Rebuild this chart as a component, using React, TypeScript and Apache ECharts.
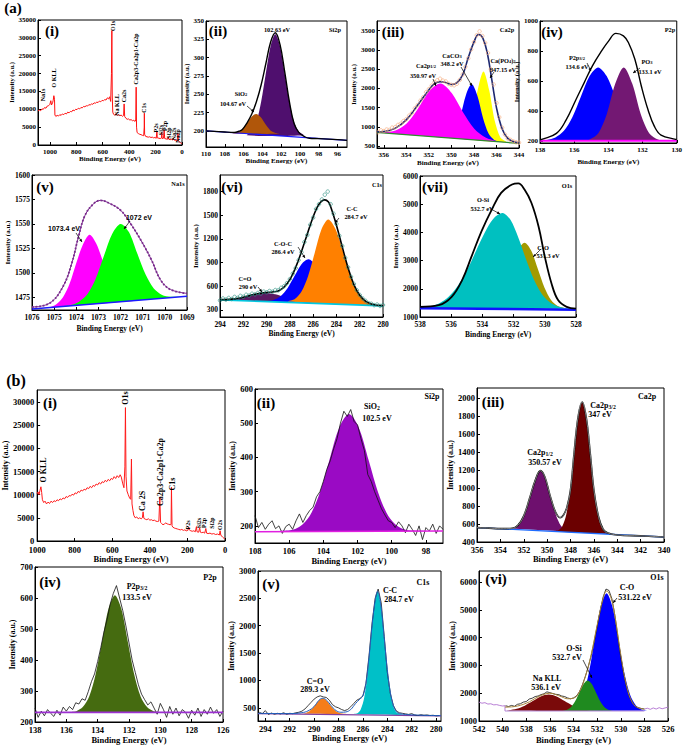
import React, { useEffect, useRef } from "react";
import * as echarts from "echarts";

type Pt = [number, number];

const SERIF = "'Liberation Serif','Times New Roman',serif";
const SANS = "'Liberation Sans',Arial,sans-serif";

// ---------------- tick values ----------------
const aSurveyXTicks = [0, 200, 400, 600, 800, 1000];
const aSurveyYTicks = [0, 5000, 10000, 15000, 20000, 25000, 30000, 35000];
const aSi2pXTicks = [96, 98, 100, 102, 104, 106, 108, 110];
const aSi2pYTicks = [200, 225, 250, 275, 300, 325, 350];
const aCa2pXTicks = [344, 346, 348, 350, 352, 354, 356];
const aCa2pYTicks = [500, 1000, 1500, 2000, 2500, 3000, 3500];
const aP2pXTicks = [130, 132, 134, 136, 138];
const aP2pYTicks = [200, 400, 600, 800, 1000];
const aNaXTicks = [1069, 1070, 1071, 1072, 1073, 1074, 1075, 1076];
const aNaYTicks = [1475, 1500, 1525, 1550, 1575, 1600];
const aC1sXTicks = [280, 282, 284, 286, 288, 290, 292, 294];
const aC1sYTicks = [300, 600, 900, 1200, 1500, 1800];
const aO1sXTicks = [528, 530, 532, 534, 536, 538];
const aO1sYTicks = [1000, 2000, 3000, 4000, 5000, 6000];
const bSurveyXTicks = [0, 200, 400, 600, 800, 1000];
const bSurveyYTicks = [0, 5000, 10000, 15000, 20000, 25000, 30000];
const bSi2pXTicks = [98, 100, 102, 104, 106, 108];
const bSi2pYTicks = [200, 300, 400, 500, 600];
const bCa2pXTicks = [340, 342, 344, 346, 348, 350, 352, 354, 356];
const bCa2pYTicks = [400, 600, 800, 1000, 1200, 1400, 1600, 1800, 2000];
const bP2pXTicks = [126, 128, 130, 132, 134, 136, 138];
const bP2pYTicks = [200, 300, 400, 500, 600, 700];
const bC1sXTicks = [280, 282, 284, 286, 288, 290, 292, 294];
const bC1sYTicks = [500, 1000, 1500, 2000, 2500, 3000];
const bO1sXTicks = [526, 528, 530, 532, 534, 536, 538, 540, 542];
const bO1sYTicks = [1000, 2000, 3000, 4000, 5000, 6000];

// ---------------- (a)(i) survey ----------------
const aSurvey: Pt[] = [[1090,9500],[1080,9800],[1070,9600],[1060,10100],[1050,10000],[1040,10500],[1030,10300],[1020,10900],[1010,11000],[1000,11400],[993,12400],[988,11200],[980,11800],[975,12500],[970,13800],[965,12800],[962,8400],[955,8000],[945,8300],[935,8100],[925,8500],[915,8300],[905,8700],[895,8500],[885,8900],[875,8700],[865,9200],[855,9000],[845,9400],[835,9300],[825,9800],[815,9600],[805,10000],[795,9900],[785,10300],[775,10100],[765,10500],[755,10400],[745,10800],[735,10700],[725,11000],[715,10900],[705,11300],[695,11200],[685,11500],[675,11400],[665,11800],[655,11700],[645,12000],[635,11900],[625,12300],[615,12100],[605,12500],[595,12400],[585,12700],[575,12600],[565,13200],[555,12900],[548,13500],[540,12200],[534,20000],[531,32000],[528,14000],[524,9200],[518,8600],[510,8400],[500,8700],[490,8300],[480,8500],[470,8200],[460,8400],[450,8000],[442,8300],[438,11500],[434,8000],[425,7500],[415,7200],[405,7300],[395,7000],[385,7100],[375,6800],[365,6900],[355,6600],[350,7000],[347,16200],[344,5000],[340,3500],[330,3200],[320,3000],[310,2900],[300,2700],[290,2600],[286,5000],[285,8900],[283,3000],[275,2400],[265,2300],[255,2200],[245,2300],[235,2100],[225,2200],[215,2000],[205,2100],[195,1900],[190,3900],[187,2000],[175,1900],[165,1800],[155,2000],[153,3500],[150,1800],[140,1900],[135,4200],[131,1800],[120,1700],[110,1600],[104,2300],[100,1600],[90,1500],[80,1600],[70,1400],[65,1900],[60,1400],[50,1300],[40,1200],[33,1500],[31,3300],[28,1100],[20,900],[10,700],[3,300]];

// ---------------- (a)(ii) Si2p ----------------
const aSi2pBase: Pt[] = [[110,200],[95,187]];
const aSi2pSiO2: Pt[] = [[107.17,196.5],[106.67,198],[106.17,202],[105.67,210],[105.17,219],[104.67,223],[104.17,218.5],[103.67,209],[103.17,201],[102.67,197.5],[102.17,196]];
const aSi2pMain: Pt[] = [[105.63,194],[105.13,199],[104.63,212],[104.13,240],[103.63,279],[103.13,316],[102.63,332],[102.13,316],[101.63,279],[101.13,240],[100.63,212],[100.13,199],[99.63,194]];
const aSi2pEnv: Pt[] = [[110,200],[108,198.5],[107,198],[106.5,199.5],[106.13,202],[105.63,211],[105.13,223],[104.63,240],[104.13,263],[103.63,292],[103.13,321],[102.63,334],[102.13,318],[101.63,281],[101.13,240],[100.63,210],[100.13,198],[99.5,192],[99,190],[98,189.5],[96,188],[95,187]];

// ---------------- (a)(iii) Ca2p ----------------
const aCa2pBase: Pt[] = [[357,863],[344,570]];
const aCa2pP12: Pt[] = [[356.5,851],[355.97,857],[354.97,905],[353.97,1088],[352.97,1472],[351.97,1925],[350.97,2127],[349.97,1880],[348.97,1382],[347.97,953],[346.97,725],[345.97,632],[345.0,593]];
const aCa2pCO3: Pt[] = [[350.7,727],[350.2,750],[349.7,894],[349.2,1281],[348.7,1836],[348.2,2114],[347.7,1813],[347.2,1236],[346.7,826],[346.2,660],[345.7,614]];
const aCa2pPO4: Pt[] = [[349.15,699],[348.65,792],[348.15,1196],[347.65,1979],[347.15,2441],[346.65,1957],[346.15,1151],[345.65,724],[345.15,609]];
const aCa2pEnv: Pt[] = [[357,870],[356,880],[355,960],[354,1180],[353,1560],[352,1960],[351.5,2120],[351,2170],[350.5,2150],[350,2100],[349.5,2150],[349,2350],[348.5,2800],[348,3200],[347.6,3400],[347.2,3300],[346.8,2900],[346.4,2200],[346,1500],[345.5,950],[345,700],[344.5,620],[344,580]];
const aCa2pRaw: Pt[] = [[357,880],[356.75,900],[356.5,860],[356.25,910],[356,890],[355.75,930],[355.5,920],[355.25,980],[355,990],[354.75,1050],[354.5,1080],[354.25,1150],[354,1200],[353.75,1290],[353.5,1360],[353.25,1480],[353,1560],[352.75,1680],[352.5,1770],[352.25,1900],[352,1980],[351.75,2070],[351.5,2160],[351.25,2210],[351,2250],[350.75,2200],[350.5,2180],[350.25,2120],[350,2090],[349.75,2080],[349.5,2120],[349.25,2220],[349,2360],[348.75,2560],[348.5,2780],[348.25,3010],[348,3200],[347.75,3380],[347.5,3480],[347.25,3360],[347,3180],[346.75,2920],[346.5,2500],[346.25,2100],[346,1620],[345.75,1250],[345.5,980],[345.25,800],[345,700],[344.75,660],[344.5,620],[344.25,600],[344,590]];

// ---------------- (a)(iv) P2p ----------------
const aP2pBase: Pt[] = [[138,200],[130,200]];
const aP2p32: Pt[] = [[138,200],[137.6,205],[137.1,222],[136.6,266],[136.1,359],[135.6,497],[135.1,632],[134.6,690],[134.1,632],[133.6,497],[133.1,359],[132.6,266],[132.1,222],[131.6,205],[131.1,201]];
const aP2pPO3: Pt[] = [[135.3,201],[135.1,208],[134.6,249],[134.1,376],[133.6,580],[133.1,690],[132.6,580],[132.1,376],[131.6,249],[131.1,208],[130.8,201]];
const aP2pEnv: Pt[] = [[138,205],[137.9,209],[137.04,249],[136.47,339],[135.9,474],[135.42,587],[134.94,699],[134.46,789],[133.98,867],[133.56,917],[133.12,901],[132.83,856],[132.45,744],[132.07,564],[131.68,407],[131.3,294],[130.92,238],[130.06,209],[130,208]];

// ---------------- (a)(v) Na1s ----------------
const aNaBase: Pt[] = [[1076,1463],[1069,1476]];
const aNa1073: Pt[] = [[1075.5,1464],[1075.2,1465],[1074.9,1468],[1074.6,1475],[1074.3,1489],[1074.0,1510],[1073.7,1529],[1073.4,1539],[1073.1,1530],[1072.8,1512],[1072.5,1493],[1072.2,1480],[1071.9,1474],[1071.6,1472],[1071.3,1471.5]];
const aNa1072: Pt[] = [[1074.6,1466],[1074.25,1467],[1073.875,1470.5],[1073.5,1478],[1073.125,1494],[1072.75,1517.5],[1072.375,1540],[1072,1550],[1071.625,1541.7],[1071.25,1520],[1070.875,1498.5],[1070.5,1484],[1070.125,1477.4],[1069.75,1475.5],[1069.3,1475.6]];
const aNaEnv: Pt[] = [[1076,1465],[1075.2,1469],[1074.6,1486],[1074.2,1510],[1073.9,1537],[1073.6,1559],[1073.2,1571],[1072.9,1574],[1072.5,1571],[1072,1564],[1071.6,1552],[1071.1,1534],[1070.6,1513],[1070.2,1493],[1069.75,1483],[1069,1479]];

// ---------------- (a)(vi) C1s ----------------
const aC1sBase: Pt[] = [[294,427],[280,351]];
const aC1sCO: Pt[] = [[294,430],[293.75,431],[293,437],[292.25,453],[291.5,480],[290.75,506],[290,515],[289.25,498],[288.5,464],[287.75,429],[287,404],[286.25,390],[285.5,382],[284.8,377]];
const aC1sCOC: Pt[] = [[290,411],[289.4,426],[288.8,474],[288.2,576],[287.6,729],[287.0,880],[286.4,942],[285.8,874],[285.2,716],[284.6,556],[284.0,448],[283.4,393],[282.8,372],[282.2,363]];
const aC1sCC: Pt[] = [[288.15,407],[287.575,439],[287,533],[286.425,733],[285.85,1032],[285.275,1324],[284.7,1447],[284.05,1317],[283.4,1019],[282.75,713],[282.1,507],[281.45,407],[280.8,368],[280.2,352]];
const aC1sEnv: Pt[] = [[294,430],[293,437],[292,461],[291,498],[290,521],[289.5,527],[289,541],[288.5,588],[288,683],[287.5,839],[287,1040],[286.5,1263],[286,1478],[285.5,1639],[285,1695],[284.7,1670],[284.5,1610],[284,1374],[283.5,1099],[283,832],[282.5,621],[282,485],[281.5,411],[281,375],[280.5,360],[280,351]];
const aC1sRaw: Pt[] = [[294,420],[293.75,445],[293.5,430],[293.25,452],[293,438],[292.75,465],[292.5,452],[292.25,478],[292,466],[291.75,492],[291.5,480],[291.25,505],[291,496],[290.75,515],[290.5,505],[290.25,532],[290,522],[289.75,540],[289.5,530],[289.25,552],[289,548],[288.75,580],[288.5,600],[288.25,640],[288,690],[287.75,760],[287.5,830],[287.25,930],[287,1030],[286.75,1160],[286.5,1250],[286.25,1380],[286,1470],[285.75,1580],[285.5,1640],[285.25,1700],[285,1760],[284.75,1800],[284.5,1640],[284.25,1520],[284,1390],[283.75,1240],[283.5,1110],[283.25,960],[283,840],[282.75,720],[282.5,630],[282.25,550],[282,490],[281.75,445],[281.5,415],[281.25,385],[281,378],[280.75,360],[280.5,368],[280.25,350],[280,362]];

// ---------------- (a)(vii) O1s ----------------
const aO1sBase: Pt[] = [[538,1310],[528,1260]];
const aO1sSi: Pt[] = [[538,1312],[537.7,1334],[537.2,1392],[536.7,1504],[536.2,1698],[535.7,2007],[535.2,2443],[534.7,2990],[534.2,3595],[533.7,4149],[533.2,4547],[532.7,4690],[532.2,4448],[531.7,3819],[531.2,3037],[530.7,2332],[530.2,1825],[529.7,1528],[529.2,1381],[528.7,1320],[528.2,1295]];
const aO1sCO: Pt[] = [[533.85,1316],[533.425,1393],[533.0,1606],[532.575,2050],[532.15,2709],[531.725,3355],[531.3,3630],[530.875,3355],[530.45,2709],[530.025,2050],[529.6,1606],[529.175,1393],[528.75,1316]];
const aO1sEnv: Pt[] = [[538,1360],[536.8,1420],[535.97,1714],[535.3,2310],[534.7,3140],[534.06,4040],[533.4,4810],[532.8,5400],[532.1,5700],[531.7,5740],[531.3,5520],[530.86,5050],[530.4,4210],[530,3140],[529.57,2190],[529.15,1600],[528.6,1360],[528,1300]];

// ---------------- (b)(i) survey ----------------
const bSurvey: Pt[] = [[1000,10200],[995,10600],[990,10000],[985,10900],[980,11700],[976,10500],[972,8900],[965,8300],[958,8600],[950,8000],[942,8400],[934,8100],[926,8600],[918,8300],[910,8700],[902,8500],[894,8900],[886,8700],[878,9100],[870,8900],[862,9300],[854,9100],[846,9600],[838,9400],[830,9800],[822,9700],[814,10100],[806,9900],[798,10400],[790,10200],[782,10700],[774,10500],[766,11000],[758,10800],[750,11200],[742,11000],[734,11500],[726,11300],[718,11800],[710,11500],[702,12000],[694,11800],[686,12300],[678,12100],[670,12600],[662,12300],[654,12800],[646,12600],[638,13100],[630,12800],[622,13300],[614,13000],[606,13500],[598,13300],[590,13900],[582,13500],[574,14100],[566,13700],[558,14300],[552,13800],[545,12500],[538,11500],[533,16000],[530,28800],[527,14000],[522,10800],[515,10000],[508,9300],[502,9000],[498,17700],[495,8000],[490,6600],[485,5500],[478,5000],[470,5200],[462,4800],[454,5000],[446,4800],[440,5000],[436,6300],[432,4900],[424,4700],[416,4600],[408,4800],[400,4500],[392,4600],[384,4400],[376,4500],[368,4300],[360,4200],[352,4300],[347,9500],[343,4000],[338,3800],[330,3500],[322,3700],[315,3900],[308,3700],[300,3600],[292,3500],[287,3600],[285,11600],[282,3300],[278,3000],[270,2800],[262,2700],[254,2600],[246,2500],[238,2400],[230,2500],[222,2300],[214,2400],[206,2200],[198,2300],[193,3000],[190,2400],[182,2200],[174,2100],[166,2200],[158,2000],[152,3100],[149,2000],[140,1900],[135,2900],[131,1900],[124,1800],[116,1900],[108,1700],[102,2700],[98,1700],[90,1600],[80,1700],[70,1500],[60,1600],[50,1400],[40,1500],[30,1300],[26,2200],[22,1200],[15,1000],[8,700],[2,400]];

// ---------------- (b)(ii) Si2p ----------------
const bSi2pBase: Pt[] = [[108,183],[97,185]];
const bSi2pSiO2: Pt[] = [[108,183],[105.95,187],[105.375,198],[104.8,229],[104.225,295],[103.65,392],[103.075,487],[102.5,527],[101.925,487],[101.35,392],[100.775,295],[100.2,229],[99.625,198],[99.05,187],[97,185]];
const bSi2pRaw: Pt[] = [[108,230],[107.8,195],[107.6,210],[107.4,190],[107.2,205],[107.0,215],[106.8,192],[106.6,200],[106.4,178],[106.2,198],[106.0,205],[105.8,190],[105.6,215],[105.4,235],[105.2,210],[105.0,230],[104.8,245],[104.6,255],[104.4,285],[104.2,300],[104.0,330],[103.8,365],[103.6,390],[103.4,425],[103.2,455],[103.0,500],[102.8,535],[102.6,520],[102.4,540],[102.2,505],[102.0,495],[101.8,455],[101.6,420],[101.4,350],[101.2,330],[101.0,300],[100.8,275],[100.6,250],[100.4,232],[100.2,215],[100.0,210],[99.8,195],[99.6,212],[99.4,200],[99.2,180],[99.0,205],[98.8,190],[98.6,172],[98.4,200],[98.2,160],[98.0,195],[97.8,185],[97.6,205],[97.4,178],[97.2,200],[97.0,190]];

// ---------------- (b)(iii) Ca2p ----------------
const bCa2pBase: Pt[] = [[356,560],[340,455]];
const bCa2pP12: Pt[] = [[353.5,552],[353.03,547],[352.62,567],[352.21,625],[351.8,748],[351.39,933],[350.98,1114],[350.57,1189],[350.16,1109],[349.75,922],[349.34,732],[348.93,604],[348.52,540],[348.11,515],[347.5,511]];
const bCa2pP32: Pt[] = [[349.5,518],[349.04,530],[348.7,576],[348.36,706],[348.02,978],[347.68,1384],[347.34,1783],[347,1951],[346.66,1779],[346.32,1376],[345.98,965],[345.64,688],[345.3,554],[344.96,504],[344.5,485],[343.5,480]];
const bCa2pEnv: Pt[] = [[356,560],[355,554],[354,548],[353,552],[352.5,585],[352,690],[351.5,885],[351,1090],[350.57,1192],[350.2,1125],[349.8,940],[349.4,770],[349.1,690],[348.9,670],[348.6,700],[348.3,790],[348,980],[347.7,1380],[347.35,1790],[347,1955],[346.65,1780],[346.3,1370],[346,980],[345.6,680],[345.2,540],[344.8,500],[344,478],[342,468],[340,456]];

// ---------------- (b)(iv) P2p ----------------
const bP2pBase: Pt[] = [[138,231],[126,231]];
const bP2p32: Pt[] = [[135.8,232],[135.36,235],[134.95,248],[134.54,282],[134.13,354],[133.72,460],[133.31,565],[132.9,609],[132.49,565],[132.08,460],[131.67,354],[131.26,282],[130.85,248],[130.44,235],[130,232]];
const bP2pRaw: Pt[] = [[138,245],[137.8,215],[137.6,235],[137.4,220],[137.2,240],[137.0,228],[136.8,218],[136.6,238],[136.4,222],[136.2,248],[136.0,235],[135.8,250],[135.6,240],[135.4,262],[135.2,258],[135.0,275],[134.8,270],[134.6,298],[134.4,330],[134.2,355],[134.0,395],[133.8,440],[133.6,490],[133.4,530],[133.2,580],[133.0,615],[132.8,640],[132.6,600],[132.4,560],[132.2,510],[132.0,455],[131.8,400],[131.6,360],[131.4,320],[131.2,290],[131.0,272],[130.8,255],[130.6,265],[130.4,245],[130.2,225],[130.0,260],[129.8,240],[129.6,215],[129.4,250],[129.2,225],[129.0,245],[128.8,220],[128.6,240],[128.4,232],[128.2,212],[128.0,238],[127.8,222],[127.6,245],[127.4,218],[127.2,240],[127.0,225],[126.8,248],[126.6,228],[126.4,240],[126.2,218],[126.0,235]];

// ---------------- (b)(v) C1s ----------------
const bC1sBase: Pt[] = [[294.6,395],[279.6,355]];
const bC1sCO: Pt[] = [[291.3,391],[291.04,393],[290.75,403],[290.46,428],[290.17,483],[289.88,563],[289.59,641],[289.3,675],[289.01,641],[288.72,563],[288.43,483],[288.14,428],[287.85,403],[287.56,393],[287.2,388]];
const bC1sCC: Pt[] = [[286.9,386],[286.45,400],[286.175,474],[285.9,678],[285.625,1104],[285.35,1737],[285.075,2356],[284.8,2620],[284.525,2356],[284.25,1737],[283.975,1104],[283.7,678],[283.425,474],[283.15,400],[282.7,372]];
const bC1sEnv: Pt[] = [[294.6,400],[292,395],[291,412],[290.5,445],[290,525],[289.6,640],[289.3,675],[289,645],[288.6,540],[288.2,450],[287.8,420],[287.4,425],[287,470],[286.6,580],[286.3,650],[286,720],[285.75,950],[285.5,1420],[285.25,2000],[285,2450],[284.8,2630],[284.55,2400],[284.3,1880],[284,1200],[283.75,780],[283.5,540],[283.25,430],[283,395],[282,372],[279.6,358]];
const bC1sRaw: Pt[] = [[294.5,420],[294.25,395],[294,450],[293.75,380],[293.5,405],[293.25,385],[293,400],[292.75,390],[292.5,410],[292.25,385],[292,400],[291.75,395],[291.5,410],[291.25,420],[291,440],[290.75,480],[290.5,540],[290.25,600],[290,660],[289.75,700],[289.5,720],[289.25,700],[289,690],[288.75,640],[288.5,560],[288.25,520],[288,500],[287.75,470],[287.5,450],[287.25,470],[287,520],[286.75,580],[286.5,640],[286.25,670],[286,720],[285.75,950],[285.5,1450],[285.25,2050],[285,2500],[284.75,2670],[284.5,2420],[284.25,1800],[284,1150],[283.75,760],[283.5,540],[283.25,440],[283,410],[282.75,400],[282.5,390],[282.25,380],[282,395],[281.75,370],[281.5,360],[281.25,375],[281,365],[280.75,370],[280.5,360],[280.25,365],[280,355],[279.75,360]];

// ---------------- (b)(vi) O1s ----------------
const bO1sNaKLL: Pt[] = [[539.8,1374],[539.475,1386],[538.8,1440],[538.125,1552],[537.45,1718],[536.775,1881],[536.1,1950],[535.425,1881],[534.75,1718],[534.075,1552],[533.4,1440],[532.725,1386],[532.05,1366],[531.5,1361]];
const bO1sSi: Pt[] = [[534.9,1372],[534.55,1408],[534.2,1508],[533.85,1717],[533.5,2027],[533.15,2331],[532.8,2460],[532.45,2331],[532.1,2027],[531.75,1717],[531.4,1508],[531.05,1408],[530.7,1372]];
const bO1sCO: Pt[] = [[534.2,1407],[533.7,1547],[533.2,1932],[532.7,2737],[532.2,3932],[531.7,5102],[531.2,5600],[530.7,5102],[530.2,3932],[529.7,2737],[529.2,1932],[528.7,1547],[528.2,1407],[527.8,1370]];
const bO1sEnv: Pt[] = [[539.8,1500],[539,1520],[538,1640],[537,1870],[536.5,1960],[536,2000],[535.5,1950],[535,1870],[534.5,1800],[534,1820],[533.5,2050],[533,2600],[532.5,3400],[532,4450],[531.5,5400],[531.2,5680],[530.8,5400],[530.5,4800],[530,3400],[529.5,2250],[529,1650],[528.5,1470],[528,1430]];
const bO1sRaw: Pt[] = [[539.75,1550],[539.5,1520],[539.25,1560],[539,1530],[538.75,1600],[538.5,1620],[538.25,1680],[538,1700],[537.75,1790],[537.5,1820],[537.25,1880],[537,1900],[536.75,1950],[536.5,1980],[536.25,2050],[536,2020],[535.75,1990],[535.5,1960],[535.25,1950],[535,1900],[534.75,1880],[534.5,1830],[534.25,1800],[534,1830],[533.75,1900],[533.5,2050],[533.25,2300],[533,2600],[532.75,2950],[532.5,3350],[532.25,3850],[532,4400],[531.75,4950],[531.5,5450],[531.25,5750],[531,5700],[530.75,5400],[530.5,4800],[530.25,4050],[530,3300],[529.75,2700],[529.5,2200],[529.25,1850],[529,1650],[528.75,1520],[528.5,1480],[528.25,1450],[528,1430]];
const bO1sTailL: Pt[] = [[542,1680],[541.75,1640],[541.5,1660],[541.25,1610],[541,1620],[540.75,1580],[540.5,1590],[540.25,1560],[540,1540],[539.8,1550],[539.8,1360]];
const bO1sTailR: Pt[] = [[528,1430],[527.75,1460],[527.5,1420],[527.25,1470],[527,1430],[526.75,1480],[526.5,1440],[526.25,1470],[526,1500]];
const bO1sBase: Pt[] = [[539.8,1360],[528,1360]];

// ---------------- panels ----------------
interface Panel { box: number[]; x: number[]; y: number[]; xt: number[]; yt: number[]; fs: number; nfs: number; xg: number; yg: number; xm: number; ym: number; }
const panels: Panel[] = [
  { box: [38, 20, 144, 125], x: [0, 1090], y: [0, 35000], xt: aSurveyXTicks, yt: aSurveyYTicks, fs: 7, nfs: 7, xg: 8.5, yg: 19, xm: 3, ym: 2 },
  { box: [206, 21, 141, 126], x: [95, 110], y: [178, 350], xt: aSi2pXTicks, yt: aSi2pYTicks, fs: 7, nfs: 7, xg: 9.5, yg: 13.5, xm: 3, ym: 2 },
  { box: [377, 21, 142, 127], x: [344, 356.6], y: [450, 3750], xt: aCa2pXTicks, yt: aCa2pYTicks, fs: 7, nfs: 7, xg: 11.5, yg: 16.5, xm: 3, ym: 2 },
  { box: [540, 21, 139, 122], x: [130, 138], y: [185, 1000], xt: aP2pXTicks, yt: aP2pYTicks, fs: 7, nfs: 7, xg: 15.5, yg: 12.5, xm: 3, ym: 2 },
  { box: [32, 175, 155, 135], x: [1069, 1076], y: [1462, 1600], xt: aNaXTicks, yt: aNaYTicks, fs: 7.5, nfs: 7.5, xg: 14, yg: 18.5, xm: 3, ym: 2 },
  { box: [220, 175, 163, 142], x: [280, 294], y: [210, 2010], xt: aC1sXTicks, yt: aC1sYTicks, fs: 7.5, nfs: 7.5, xg: 12, yg: 16.5, xm: 3, ym: 2 },
  { box: [420, 176, 156, 141], x: [528, 538], y: [1000, 6000], xt: aO1sXTicks, yt: aO1sYTicks, fs: 7.5, nfs: 7.5, xg: 13, yg: 19.5, xm: 3, ym: 2 },
  { box: [35, 390, 190, 151], x: [0, 1000], y: [0, 32600], xt: bSurveyXTicks, yt: bSurveyYTicks, fs: 8.5, nfs: 8.5, xg: 12.5, yg: 26, xm: 4, ym: 3 },
  { box: [255, 389, 188, 154], x: [97, 108], y: [150, 600], xt: bSi2pXTicks, yt: bSi2pYTicks, fs: 8.5, nfs: 8.5, xg: 13.5, yg: 19, xm: 3, ym: 2 },
  { box: [477, 388, 187, 154], x: [340, 356], y: [400, 2110], xt: bCa2pXTicks, yt: bCa2pYTicks, fs: 8.5, nfs: 8.5, xg: 12.5, yg: 21, xm: 3, ym: 2 },
  { box: [35, 567, 188, 155], x: [126, 138], y: [200, 700], xt: bP2pXTicks, yt: bP2pYTicks, fs: 8.5, nfs: 8.5, xg: 13.5, yg: 18, xm: 3, ym: 2 },
  { box: [258, 571, 183, 150], x: [279.6, 294.6], y: [260, 3000], xt: bC1sXTicks, yt: bC1sYTicks, fs: 8.5, nfs: 8.5, xg: 11.5, yg: 21, xm: 3, ym: 2 },
  { box: [479, 571, 189, 150], x: [526, 542], y: [1000, 6400], xt: bO1sXTicks, yt: bO1sYTicks, fs: 8.5, nfs: 8.5, xg: 14.5, yg: 18, xm: 3, ym: 2 },
];

function buildOption() {
  const series: any[] = [];
  const fill = (i: number, pts: Pt[], color: string) => {
    series.push({
      type: "custom", coordinateSystem: "cartesian2d", xAxisIndex: i, yAxisIndex: i, clip: true, silent: true,
      data: [pts[0]],
      renderItem: (_p: any, api: any) => ({
        type: "polygon",
        shape: { points: pts.map((q) => api.coord(q)), smooth: 0.3 },
        style: { fill: color, stroke: "none" },
      }),
    });
  };
  const line = (i: number, pts: Pt[], color: string, width: number, smooth: number | boolean = 0.4, type = "solid") => {
    series.push({
      type: "line", xAxisIndex: i, yAxisIndex: i, data: pts, smooth, symbol: "none", silent: true,
      lineStyle: { color, width, type }, z: 3,
    });
  };
  const dots = (i: number, pts: Pt[], color: string, size: number) => {
    series.push({
      type: "scatter", xAxisIndex: i, yAxisIndex: i, data: pts, symbol: "circle", symbolSize: size, silent: true,
      itemStyle: { color: "rgba(0,0,0,0)", borderColor: color, borderWidth: 0.8 }, z: 4,
    });
  };

  // (a)
  line(0, aSurvey, "#ff1010", 1, false);
  fill(1, aSi2pMain, "#4f0f6e");
  fill(1, aSi2pSiO2, "#b0560a");
  line(1, aSi2pBase, "#1a1aff", 1.2, false);
  line(1, aSi2pEnv, "#000", 1.4);
  fill(2, aCa2pPO4, "#ffff00");
  fill(2, aCa2pCO3, "#0000ff");
  fill(2, aCa2pP12, "#ff00ff");
  line(2, aCa2pBase, "#2e8b2e", 1.2, false);
  dots(2, aCa2pRaw, "#f4a777", 3.5);
  line(2, aCa2pEnv, "#1d2870", 1.6);
  fill(3, aP2p32, "#0000ff");
  fill(3, aP2pPO3, "#731873");
  line(3, aP2pBase, "#ff00ff", 1.8, false);
  line(3, aP2pEnv, "#000", 1.4);
  fill(4, aNa1073, "#ff00ff");
  fill(4, aNa1072, "#00ff00");
  line(4, aNaBase, "#1a1aff", 1.4, false);
  line(4, aNaEnv, "#7b2d8e", 1.8, 0.4, "dotted");
  line(4, aNaEnv, "#7b2d8e", 1, 0.4);
  fill(5, aC1sCO, "#5b1a62");
  fill(5, aC1sCOC, "#0000ff");
  fill(5, aC1sCC, "#ff8000");
  line(5, aC1sBase, "#00c8e0", 1.6, false);
  dots(5, aC1sRaw, "#2a8f80", 3.5);
  line(5, aC1sEnv, "#000", 1.6);
  fill(6, aO1sCO, "#a39a00");
  fill(6, aO1sSi, "#00c0c0");
  line(6, aO1sBase, "#1010ff", 2.5, false);
  line(6, aO1sEnv, "#000", 1.8);

  // (b)
  line(7, bSurvey, "#ff1a1a", 1, false);
  fill(8, bSi2pSiO2, "#9a0ac4");
  line(8, bSi2pRaw, "#111", 0.8, false);
  line(8, bSi2pBase, "#e020e0", 1.6, false);
  fill(9, bCa2pP12, "#6e106e");
  fill(9, bCa2pP32, "#6b0000");
  line(9, bCa2pBase, "#1e6cff", 1.4, false);
  line(9, bCa2pEnv, "#000", 1.6);
  line(9, bCa2pEnv, "#fff", 0.5);
  fill(10, bP2p32, "#456b10");
  line(10, bP2pRaw, "#111", 0.8, false);
  line(10, bP2pBase, "#9b30d0", 1.6, false);
  fill(11, bC1sCO, "#f47d1a");
  fill(11, bC1sCC, "#00c0c8");
  line(11, bC1sBase, "#8040a0", 1.2, false);
  line(11, bC1sRaw, "#111", 0.8, false);
  line(11, bC1sEnv, "#1f5fbf", 1);
  fill(12, bO1sCO, "#0000ff");
  fill(12, bO1sNaKLL, "#7a0a0a");
  fill(12, bO1sSi, "#1f8a1f");
  line(12, bO1sBase, "#b48ad8", 1, false);
  line(12, bO1sTailL, "#b070d0", 0.9, false);
  line(12, bO1sTailR, "#b070d0", 0.9, false);
  line(12, bO1sRaw, "#111", 0.8, false);
  line(12, bO1sEnv, "#a8843a", 1);

  const fmt = (v: number) => String(v);
  const grid = panels.map((p) => ({
    left: p.box[0], top: p.box[1], width: p.box[2], height: p.box[3],
    show: true, borderColor: "#000", borderWidth: 1, backgroundColor: "transparent", containLabel: false,
  }));
  const nameStyle = (fs: number) => ({ fontFamily: SERIF, fontWeight: "bold", fontSize: fs, color: "#000" });
  const xAxis = panels.map((p, i) => ({
    type: "value", gridIndex: i, min: p.x[0], max: p.x[1], inverse: true,
    name: "Binding Energy (eV)", nameLocation: "middle", nameGap: p.xg + (p.xm - 3), nameTextStyle: nameStyle(p.nfs),
    axisLine: { show: true, onZero: false, lineStyle: { color: "#000", width: 1 } },
    axisTick: { show: true, inside: true, length: 3, customValues: p.xt, lineStyle: { color: "#000" } },
    axisLabel: { customValues: p.xt, formatter: fmt, fontFamily: SERIF, fontWeight: "bold", fontSize: p.fs, color: "#000", margin: p.xm },
    splitLine: { show: false },
  }));
  const yAxis = panels.map((p, i) => ({
    type: "value", gridIndex: i, min: p.y[0], max: p.y[1],
    name: "Intensity (a.u.)", nameLocation: "middle", nameRotate: 90, nameGap: p.yg, nameTextStyle: nameStyle(p.nfs - 0.5),
    axisLine: { show: true, onZero: false, lineStyle: { color: "#000", width: 1 } },
    axisTick: { show: true, inside: true, length: 3, customValues: p.yt, lineStyle: { color: "#000" } },
    axisLabel: { customValues: p.yt, formatter: fmt, fontFamily: SERIF, fontWeight: "bold", fontSize: p.fs, color: "#000", margin: p.ym },
    splitLine: { show: false },
  }));

  // annotations
  const g: any[] = [];
  const txt = (x: number, y: number, text: string, fs: number, font = SERIF, rot = 0) => {
    g.push({
      type: "text", x, y, rotation: rot, z: 100, silent: true,
      style: {
        text, fontFamily: font, fontWeight: "bold", fontSize: fs, fill: "#000", align: "center", verticalAlign: "middle",
        rich: { s: { fontFamily: font, fontWeight: "bold", fontSize: fs * 0.72, fill: "#000", padding: [fs * 0.45, 0, 0, 0] } },
      },
    });
  };
  const arrow = (x1: number, y1: number, x2: number, y2: number) => {
    g.push({ type: "line", z: 100, silent: true, shape: { x1, y1, x2, y2 }, style: { stroke: "#000", lineWidth: 0.7 } });
    const a = Math.atan2(y2 - y1, x2 - x1), L = 3, w = 1.4;
    g.push({
      type: "polygon", z: 100, silent: true,
      shape: { points: [[x2, y2], [x2 - L * Math.cos(a) + w * Math.sin(a), y2 - L * Math.sin(a) - w * Math.cos(a)], [x2 - L * Math.cos(a) - w * Math.sin(a), y2 - L * Math.sin(a) + w * Math.cos(a)]] },
      style: { fill: "#000" },
    });
  };
  const R = Math.PI / 2;
  txt(13, 8, "(a)", 15);
  txt(16, 380, "(b)", 16);
  // panel numbers
  txt(52, 31, "(i)", 15); txt(218, 31, "(ii)", 15); txt(393, 32, "(iii)", 15); txt(552, 32, "(iv)", 15);
  txt(45, 187, "(v)", 15); txt(232, 187, "(vi)", 15); txt(435, 187, "(vii)", 15);
  txt(50, 403, "(i)", 15); txt(266, 403, "(ii)", 15); txt(493, 402, "(iii)", 15);
  txt(50, 582, "(iv)", 15); txt(271, 584, "(v)", 15); txt(496, 579, "(vi)", 15);
  // (a)(i)
  const s1 = 6;
  txt(43, 95, "Na1s", s1, SERIF, R); txt(54, 78, "O KLL", s1, SERIF, R); txt(113, 26, "O1s", s1, SERIF, R);
  txt(117, 105, "Na KLL", s1, SERIF, R); txt(124, 96, "Ca2s", s1, SERIF, R); txt(136, 59, "Ca2p3-Ca2p1-Ca2p", s1, SERIF, R);
  txt(144, 108, "C1s", s1, SERIF, R); txt(156, 128, "P2s", s1, SERIF, R); txt(161, 130, "Si2s", s1, SERIF, R);
  txt(165, 126, "P2p", s1, SERIF, R); txt(169, 133, "Si2p", s1, SERIF, R); txt(174, 134, "Na2s", s1, SERIF, R);
  txt(178, 136, "Na2p", s1, SERIF, R);
  // (a)(ii)
  const s2 = 6.3;
  txt(277, 29, "102.63 eV", s2); txt(335, 29, "Si2p", s2); txt(241, 93, "SiO{s|2}", s2); txt(233, 103, "104.67 eV", s2);
  arrow(247, 106, 254, 112);
  // (a)(iii)
  txt(426, 65, "Ca2p{s|1/2}", s2); txt(423, 75, "350.97 eV", s2); arrow(433, 79, 436, 86);
  txt(452, 55, "CaCO{s|3}", s2); txt(452, 63, "348.2 eV", s2); arrow(461, 67, 472, 86);
  txt(503, 60, "Ca(PO{s|4}){s|2}", s2); txt(503, 69, "347.15 eV", s2); arrow(494, 72, 490, 78);
  txt(507, 29, "Ca2p", s2);
  // (a)(iv)
  txt(577, 57, "P2p{s|3/2}", s2); txt(577, 66, "134.6 eV", s2); arrow(587, 63, 591, 71);
  txt(647, 61, "PO{s|3}", s2); txt(650, 71, "133.1 eV", s2); arrow(640, 68, 633, 73);
  txt(670, 29, "P2p", s2);
  // (a)(v)
  txt(64, 228, "1073.4 eV", 7, SANS); arrow(76, 233, 82, 242);
  txt(139, 217, "1072 eV", 7, SANS); arrow(130, 221, 124, 229);
  txt(178, 183, "Na1s", s2);
  // (a)(vi)
  txt(352, 208, "C-C", s2); txt(356, 216, "284.7 eV", s2); arrow(339, 218, 335, 223);
  txt(283, 243, "C-O-C", s2); txt(283, 251, "286.4 eV", s2); arrow(298, 247, 305, 258);
  txt(245, 278, "C=O", s2); txt(248, 286, "290 eV", s2); arrow(258, 287, 262, 292);
  txt(377, 184, "C1s", s2);
  // (a)(vii)
  txt(483, 199, "O-Si", s2); txt(482, 208, "532.7 eV", s2); arrow(491, 209, 500, 214);
  txt(543, 247, "C-O", s2); txt(548, 255, "531.3 eV", s2); arrow(541, 249, 533, 257);
  txt(567, 185, "O1s", s2);
  // (b)(i)
  txt(43, 470, "O KLL", 8, SERIF, R); txt(125, 398, "O1s", 8, SERIF, R); txt(142, 501, "Ca 2S", 8, SERIF, R);
  txt(160, 472, "Ca2p3-Ca2p1-Ca2p", 8, SERIF, R); txt(172, 484, "C1s", 8, SERIF, R);
  txt(188, 525, "P2s", 6, SERIF, R); txt(199, 523, "Si2s", 6, SERIF, R); txt(204, 523, "P2p", 6, SERIF, R);
  txt(212, 523, "Si2p", 6, SERIF, R); txt(220, 525, "O2s", 6, SERIF, R);
  // (b)(ii)-(vi)
  const s3 = 8;
  txt(372, 406, "SiO{s|2}", s3); txt(377, 418, "102.5 eV", s3); txt(432, 396, "Si2p", s3);
  txt(603, 405, "Ca2p{s|3/2}", s3); txt(600, 414, "347 eV", s3);
  txt(540, 452, "Ca2p{s|1/2}", s3); txt(545, 462, "350.57 eV", s3); txt(647, 396, "Ca2p", s3);
  txt(137, 586, "P2p{s|3/2}", s3); txt(137, 597, "133.5 eV", s3); txt(210, 577, "P2p", s3);
  txt(390, 590, "C-C", s3); txt(399, 599, "284.7 eV", s3);
  txt(315, 681, "C=O", s3); txt(315, 689, "289.3 eV", s3); txt(423, 582, "C1s", s3);
  txt(627, 587, "C-O", s3); txt(635, 597, "531.22 eV", s3); arrow(617, 598, 613, 603);
  txt(574, 648, "O-Si", s3); txt(567, 657, "532.7 eV", s3); arrow(583, 660, 592, 678);
  txt(547, 678, "Na KLL", s3); txt(546, 687, "536.1 eV", s3); txt(657, 577, "O1s", s3);

  return { animation: false, backgroundColor: "#fff", grid, xAxis, yAxis, series, graphic: { elements: g } };
}

export default function App() {
  const ref = useRef<HTMLDivElement>(null);
  useEffect(() => {
    document.body.style.margin = "0";
    if (!ref.current) return;
    const chart = echarts.init(ref.current, undefined, { renderer: "svg" });
    chart.setOption(buildOption() as any);
    return () => chart.dispose();
  }, []);
  return <div ref={ref} style={{ width: 685, height: 746 }} />;
}
